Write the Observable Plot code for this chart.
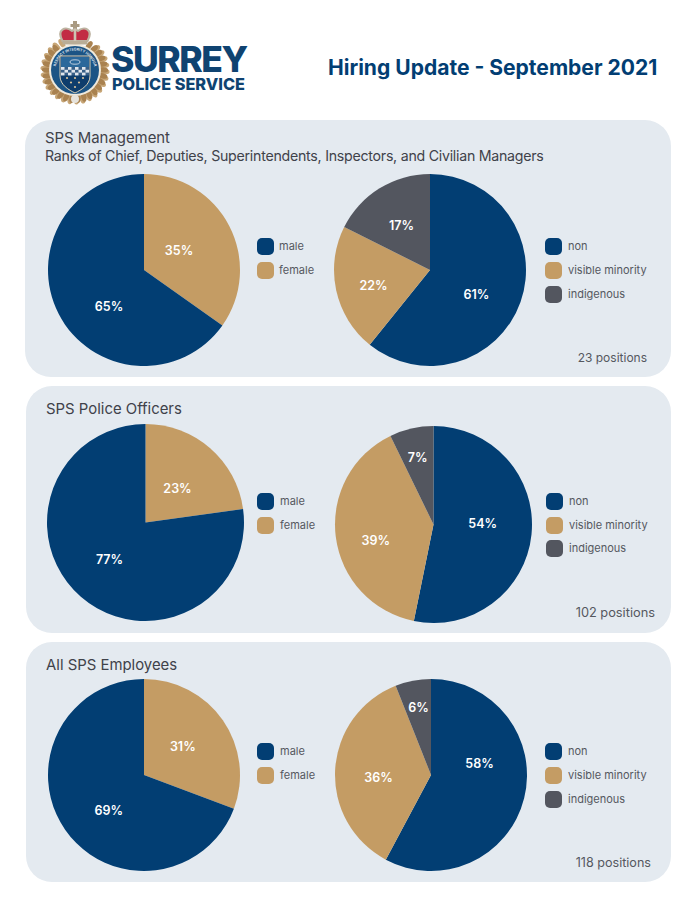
<!DOCTYPE html>
<html>
<head>
<meta charset="utf-8">
<script src="https://cdn.jsdelivr.net/npm/d3@7"></script>
<script src="https://cdn.jsdelivr.net/npm/@observablehq/plot@0.6"></script>
<style>
  html, body { margin: 0; padding: 0; background: #fff; }
  #page { position: relative; width: 695px; height: 900px; overflow: hidden; font-family: Inter, "Noto Sans", sans-serif; color: #4a4d55; }
  .abs { position: absolute; white-space: nowrap; }
  .panel { position: absolute; background: #e4eaf0; border-radius: 26px; }
  .swatch { position: absolute; width: 17px; height: 17px; border-radius: 5px; }
  .legend { position: absolute; white-space: nowrap; font-size: 11px; line-height: 14px; color: #55585f; }
  .head { position: absolute; white-space: nowrap; font-size: 14.9px; line-height: 18px; color: #3f424a; }
  .pie { position: absolute; }
  .pie svg { display: block; background: transparent; }
</style>
</head>
<body>
<div id="page"></div>
<script>
// ---------- data ----------
const genderLabels = ["female", "male"];
const diversityLabels = ["non", "visible minority", "indigenous"];

// printed percentages
const managementGenderPct = [35, 65];
const managementDiversityPct = [61, 22, 17];
const officersGenderPct = [23, 77];
const officersDiversityPct = [54, 39, 7];
const employeesGenderPct = [31, 69];
const employeesDiversityPct = [58, 36, 6];

// slice shares
const managementGender = [34.8, 65.2];
const managementDiversity = [60.8, 21.6, 17.6];
const officersGender = [22.8, 77.2];
const officersDiversity = [53.2, 39.6, 7.2];
const employeesGender = [30.7, 69.3];
const employeesDiversity = [57.8, 36.2, 6.0];

const panelTitles = [
  ["SPS Management", "Ranks of Chief, Deputies, Superintendents, Inspectors, and Civilian Managers"],
  ["SPS Police Officers"],
  ["All SPS Employees"]
];
const positionCounts = ["23 positions", "102 positions", "118 positions"];

// ---------- colours ----------
const colorOf = {
  male: "#023e73", female: "#c49c64",
  non: "#023e73", "visible minority": "#c49c64", indigenous: "#53565f"
};

// ---------- layout (page pixels) ----------
const layout = [
  {
    box: [25, 120, 646, 257], heads: [[45, 128.5], [45, 147]], count: [647, 357.5, 12],
    pies: [
      {c: [143.5, 270], r: 96, labelAt: [[34.5, -20], [-35.5, 36]], legend: [256.5, [238, 262]], text: 279},
      {c: [430, 269.5], r: 96, labelAt: [[46, 24.5], [-57, 15.5], [-29, -44.5]], legend: [544.5, [238, 262, 285.5]], text: 568}
    ]
  },
  {
    box: [26, 386, 645, 247], heads: [[46, 399.5]], count: [655, 612.5, 12.8],
    pies: [
      {c: [145.5, 522.5], r: 98.5, labelAt: [[31.5, -34.5], [-36.5, 36.5]], legend: [257, [493, 517]], text: 280},
      {c: [433.3, 524.4], r: 98.5, labelAt: [[48.7, -1.4], [-58.3, 15.6], [-16.3, -67.4]], legend: [546, [493, 517, 540]], text: 569}
    ]
  },
  {
    box: [26, 642, 645, 240], heads: [[46, 655.5]], count: [651, 862.5, 12.6],
    pies: [
      {c: [143.7, 775.3], r: 96, labelAt: [[38.3, -28.3], [-35.7, 35.7]], legend: [257, [743, 767]], text: 280},
      {c: [431, 775.3], r: 96, labelAt: [[48, -11.3], [-53, 2.7], [-13, -67.3]], legend: [545, [743, 767, 791]], text: 568}
    ]
  }
];

const page = document.getElementById("page");

function el(cls, css, text) {
  const d = document.createElement("div");
  d.className = cls;
  Object.assign(d.style, css);
  if (text != null) d.textContent = text;
  page.appendChild(d);
  return d;
}

function piePlot(labels, values, printed, spec) {
  const half = spec.r + 2;
  const slices = labels.map((label, i) => ({label, value: values[i], printed: printed[i], at: spec.labelAt[i]}));
  const arcs = d3.pie().sort(null).value(d => d.value)(slices);
  const sliceMark = (index, scales) => {
    const g = d3.create("svg:g");
    const cx = scales.x(0), cy = scales.y(0);
    const radius = scales.x(spec.r) - cx;
    const arc = d3.arc().innerRadius(0).outerRadius(radius);
    g.selectAll("path").data(arcs).join("path")
      .attr("transform", `translate(${cx},${cy})`)
      .attr("d", arc)
      .attr("fill", d => colorOf[d.data.label]);
    return g.node();
  };
  return Plot.plot({
    width: half * 2, height: half * 2,
    margin: 0,
    style: {background: "transparent"},
    x: {domain: [-half, half], range: [0, half * 2], axis: null},
    y: {domain: [-half, half], range: [0, half * 2], axis: null},
    marks: [
      sliceMark,
      Plot.text(slices, {
        x: d => d.at[0], y: d => d.at[1],
        text: d => d.printed + "%",
        fill: "#fff", fontSize: 12.5, fontWeight: 600,
        fontFamily: "Inter, sans-serif"
      })
    ]
  });
}

const panelData = [
  [[genderLabels, managementGender, managementGenderPct], [diversityLabels, managementDiversity, managementDiversityPct]],
  [[genderLabels, officersGender, officersGenderPct], [diversityLabels, officersDiversity, officersDiversityPct]],
  [[genderLabels, employeesGender, employeesGenderPct], [diversityLabels, employeesDiversity, employeesDiversityPct]]
];

layout.forEach((p, i) => {
  el("panel", {left: p.box[0] + "px", top: p.box[1] + "px", width: p.box[2] + "px", height: p.box[3] + "px"});
  panelTitles[i].forEach((t, j) => {
    const h = el("head", {left: p.heads[j][0] + "px", top: p.heads[j][1] + "px"}, t);
    if (j === 1) { h.style.fontSize = "14.2px"; h.style.letterSpacing = "-0.26px"; }
  });
  p.pies.forEach((spec, k) => {
    const [labels, values, printed] = panelData[i][k];
    const half = spec.r + 2;
    const holder = el("pie", {left: (spec.c[0] - half) + "px", top: (spec.c[1] - half) + "px"});
    holder.appendChild(piePlot(labels, values, printed, spec));
    // legend lists male first, then female
    const order = k === 0 ? [...labels].reverse() : labels;
    order.forEach((label, n) => {
      el("swatch", {left: spec.legend[0] + "px", top: spec.legend[1][n] + "px", background: colorOf[label]});
      el("legend", {left: spec.text + "px", top: (spec.legend[1][n] + 1) + "px"}, label);
    });
  });
  el("abs", {right: (695 - p.count[0]) + "px", top: (p.count[1] - 8) + "px", fontSize: p.count[2] + "px", lineHeight: "16px", color: "#55585f"}, positionCounts[i]);
});

// ---------- header ----------
el("abs", {left: "111px", top: "46px", fontSize: "35.5px", lineHeight: "28px", fontWeight: 800, color: "#0f4371", letterSpacing: "-1.5px"}, "SURREY");
el("abs", {left: "112px", top: "76px", fontSize: "16.3px", lineHeight: "16px", fontWeight: 800, color: "#0f4371"}, "POLICE SERVICE");
el("abs", {left: "328px", top: "54px", fontSize: "21.05px", lineHeight: "28px", fontWeight: 700, color: "#023e73"}, "Hiring Update - September 2021");

// ---------- crest ----------
const crest = d3.create("svg").attr("width", 80).attr("height", 90)
  .style("position", "absolute").style("left", "35px").style("top", "18px");
const badge = crest.append("g").attr("transform", "translate(40,52)");
d3.range(30).forEach(i => {
  const a = i * 12;
  if (a < 30 || a > 330) return;            // leaves stop below the crown
  [[-3, 0], [3, 4]].forEach(([dx, tilt], j) => {
    badge.append("ellipse").attr("cx", dx).attr("cy", -28 - j * 1.5).attr("rx", 2.6).attr("ry", 5)
      .attr("fill", j ? "#c7a677" : "#a98250")
      .attr("transform", `rotate(${a + tilt})`);
  });
});
badge.append("circle").attr("r", 26).attr("fill", "#efe9dc");
badge.append("circle").attr("r", 24).attr("fill", "#1b5485");
badge.append("circle").attr("cy", 29).attr("r", 4).attr("fill", "#e6e3dc");

// ring motto
const defs = crest.append("defs");
defs.append("path").attr("id", "ringTop").attr("d", "M-19.5,0 A19.5,19.5 0 0 1 19.5,0");
const motto = badge.append("text").attr("fill", "#e9eef3").attr("font-size", 3.6).attr("font-weight", 600).attr("font-family", "Inter, sans-serif");
motto.append("textPath").attr("href", "#ringTop").attr("startOffset", "50%").attr("text-anchor", "middle")
  .text("RESPECT INTEGRITY HONOUR");

// shield
badge.append("path").attr("d", "M-15,-14 H15 V6 C15,15 6,20 0,23 C-6,20 -15,15 -15,6 Z")
  .attr("fill", "#0e3d6c").attr("stroke", "#dfd2b5").attr("stroke-width", 1);
badge.append("path").attr("d", "M-14,-13 H14 V-3 H-14 Z").attr("fill", "#2a689b");
badge.append("ellipse").attr("cx", 0).attr("cy", -8).attr("rx", 5).attr("ry", 2.2).attr("fill", "none").attr("stroke", "#dfe5ee").attr("stroke-width", .8);
d3.range(8).forEach(c => d3.range(3).forEach(r => {
  if ((c + r) % 2) return;
  badge.append("rect").attr("x", -14 + c * 3.5).attr("y", -3 + r * 2.8).attr("width", 3.5).attr("height", 2.8).attr("fill", "#eef1f5");
}));
badge.append("rect").attr("x", -14).attr("y", -3).attr("width", 28).attr("height", 8.4).attr("fill", "#b9c7d6").attr("opacity", .25);
[[-8, 8], [0, 8], [8, 8], [-4, 12.5], [4, 12.5], [0, 17]].forEach(([x, y]) =>
  badge.append("circle").attr("cx", x).attr("cy", y).attr("r", 1.1).attr("fill", "#d9c29a"));

// crown
const crown = crest.append("g").attr("transform", "translate(40,3)");
crown.append("rect").attr("x", -2).attr("y", 0).attr("width", 4).attr("height", 11).attr("fill", "#a99a82");
crown.append("rect").attr("x", -4.5).attr("y", 3).attr("width", 9).attr("height", 3).attr("fill", "#a99a82");
crown.append("path").attr("d", "M-12.5,20 C-19,8 -9,5 -3,10 L0,8 L3,10 C9,5 19,8 12.5,20 Z")
  .attr("fill", "#c22b44").attr("stroke", "#bdb3a1").attr("stroke-width", 2.2);
crown.append("rect").attr("x", -1.3).attr("y", 8).attr("width", 2.6).attr("height", 12).attr("fill", "#cdc4b3");
crown.append("rect").attr("x", -12.5).attr("y", 20).attr("width", 25).attr("height", 3.5).attr("fill", "#b9ad97");
page.appendChild(crest.node());
</script>
</body>
</html>
